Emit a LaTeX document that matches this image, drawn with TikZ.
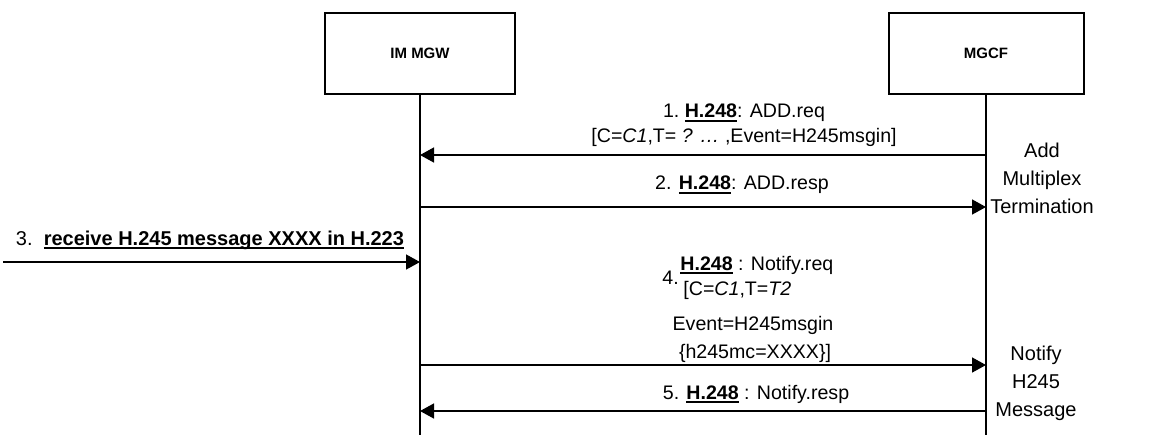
\documentclass[tikz,border=0pt]{standalone}
\usepackage{fontspec}
\setmainfont{Liberation Sans}
\usepackage{tikz}
\usetikzlibrary{arrows.meta}
\tikzset{every picture/.append style={font=\fontsize{9.8}{12.5}\selectfont}}
\newcommand{\ulb}[1]{\setbox0\hbox{\textbf{#1}}\rlap{\vrule height -1.1pt depth 2.1pt width \wd0}\box0}

\begin{document}
\begin{tikzpicture}[x=0.5pt,y=-0.5pt,
    entity/.style={draw,line width=1pt,minimum width=95pt,minimum height=40.5pt,
      font=\fontsize{7.5}{9}\selectfont\bfseries},
    life/.style={line width=0.75pt},
    msg/.style={line width=0.75pt,-{Triangle[length=7pt,width=7.5pt]}},
    note/.style={align=center,font=\fontsize{10}{14}\selectfont,inner sep=0pt}]
    \useasboundingbox (0,0) rectangle (1166,435);
    \node[entity] (mgw) at (420,53.5) {IM MGW};
    \node[entity,minimum width=97.5pt] (mgcf) at (986,53.5) {MGCF};
    \coordinate (mgwend) at (420,435);
    \coordinate (mgcfend) at (986,435);
    \draw[life] (mgw.south) -- (mgwend);
    \draw[life] (mgcf.south) -- (mgcfend);
    \foreach \n/\y in {1/155,2/207,3/262,4/365,5/411} {
      \coordinate (a\n) at (420,\y);
      \coordinate (b\n) at (986,\y);
    }
    \coordinate (ext) at (3,262);
    \draw[msg] (b1) -- (a1);
    \draw[msg] (a2) -- (b2);
    \draw[msg] (ext) -- (a3);
    \draw[msg] (a4) -- (b4);
    \draw[msg] (b5) -- (a5);
    \node[align=center,inner sep=0pt] (l1) at (744,125.5)
      {1.\ \ulb{H.248}: ADD.req\\{}[C=\textit{C1},T= \textit{?} \textit{\dots} ,Event=H245msgin]};
    \node[inner sep=0pt] (l2) at (742,185) {2. \ulb{H.248}: ADD.resp};
    \node[inner sep=0pt,font=\fontsize{10}{12}\selectfont] (l3) at (210,240)
      {3.\ \ \ulb{receive H.245 message XXXX in H.223}};
    \node[inner sep=0pt,anchor=west] (l4n) at (662,278) {4.};
    \node[inner sep=0pt,anchor=west] (l4a) at (680,265) {\ulb{H.248}\ : Notify.req};
    \node[inner sep=0pt,anchor=west] (l4b) at (683,290) {[C=\textit{C1},T=\textit{T2}};
    \node[inner sep=0pt] (l4c) at (753,325) {Event=H245msgin};
    \node[inner sep=0pt] (l4d) at (755,353) {\{h245mc=XXXX\}]};
    \node[inner sep=0pt] (l5) at (756,394) {5. \ulb{H.248}\ : Notify.resp};
    \node[note] (addterm) at (1042,178) {Add\\Multiplex\\Termination};
    \node[note] (notify) at (1036,383) {Notify\\H245\\Message};
\end{tikzpicture}
\end{document}
